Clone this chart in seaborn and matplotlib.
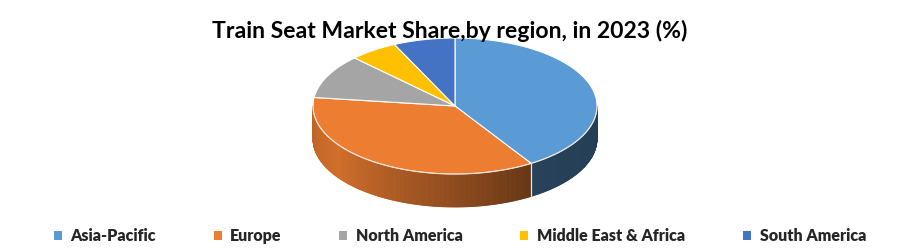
import numpy as np
import matplotlib
matplotlib.use("Agg")
import matplotlib.pyplot as plt
from matplotlib.patches import Polygon, Patch
from matplotlib.colors import to_rgb
import seaborn as sns

regions = ["Asia-Pacific", "Europe", "North America", "Middle East & Africa", "South America"]
shares = [41.0, 36.0, 10.5, 5.5, 7.0]
colors = ["#5B9BD5", "#ED7D31", "#A5A5A5", "#FFC000", "#4472C4"]
title = "Train Seat Market Share,by region, in 2023 (%)"

sns.set_theme(style="white")
plt.rcParams['font.family'] = ['Lato', 'DejaVu Sans']
palette = sns.color_palette(colors)

fig = plt.figure(figsize=(9, 2.5), dpi=100)
ax = fig.add_axes([0, 0, 1, 1])
ax.set_xlim(0, 900)
ax.set_ylim(250, 0)
ax.axis('off')

cx, cy, rx, ry, depth = 455, 106, 142, 68, 33
total = sum(shares)
bounds = np.concatenate([[0], np.cumsum(shares)]) / total * 360


def pt(t, d=0.0):
    r = np.radians(t)
    return cx + rx * np.sin(r), cy - ry * np.cos(r) + d


def shade(t):
    return np.interp(t, [90, 146, 235, 270], [0.40, 0.42, 0.88, 0.80])


# side walls (front half only)
for i, col in enumerate(palette):
    a0, a1 = bounds[i], bounds[i + 1]
    lo, hi = max(a0, 90), min(a1, 270)
    if hi <= lo:
        continue
    ts = np.arange(lo, hi, 0.5)
    ts = np.append(ts, hi)
    base = np.array(to_rgb(col))
    for ta, tb in zip(ts[:-1], ts[1:]):
        f = shade((ta + tb) / 2)
        c = np.clip(base * f, 0, 1)
        poly = [pt(ta), pt(tb), pt(tb, depth), pt(ta, depth)]
        ax.add_patch(Polygon(poly, closed=True, facecolor=c, edgecolor=c, lw=0.6))
    for tb in (a0, a1):
        if 90 < tb < 270:
            x0, y0 = pt(tb)
            x1, y1 = pt(tb, depth)
            ax.plot([x0, x1], [y0, y1], color="#e8e8e8", lw=0.8)

# top faces
for i, col in enumerate(palette):
    a0, a1 = bounds[i], bounds[i + 1]
    ts = np.linspace(a0, a1, 200)
    poly = [(cx, cy)] + [pt(t) for t in ts]
    ax.add_patch(Polygon(poly, closed=True, facecolor=col, edgecolor="white", lw=0.8))

# rim highlight along front edge
ts = np.linspace(90, 270, 300)
rim = np.array([pt(t) for t in ts])
ax.plot(rim[:, 0], rim[:, 1], color="#f3d9c4", lw=0.6, alpha=0.8)

fig.text(0.5, 1 - 31 / 250, title, ha='center', va='center',
         fontsize=16.6, fontweight='bold', color='black')

handles = [Patch(facecolor=c, edgecolor='none') for c in palette]
fig.legend(handles, regions, loc='center', bbox_to_anchor=(0.511, 1 - 236 / 250),
           ncol=5, frameon=False, handlelength=0.5, handleheight=0.5,
           handletextpad=0.55, columnspacing=3.6,
           prop=dict(weight='heavy', size=11.5))

fig.savefig("out.png", dpi=100)
